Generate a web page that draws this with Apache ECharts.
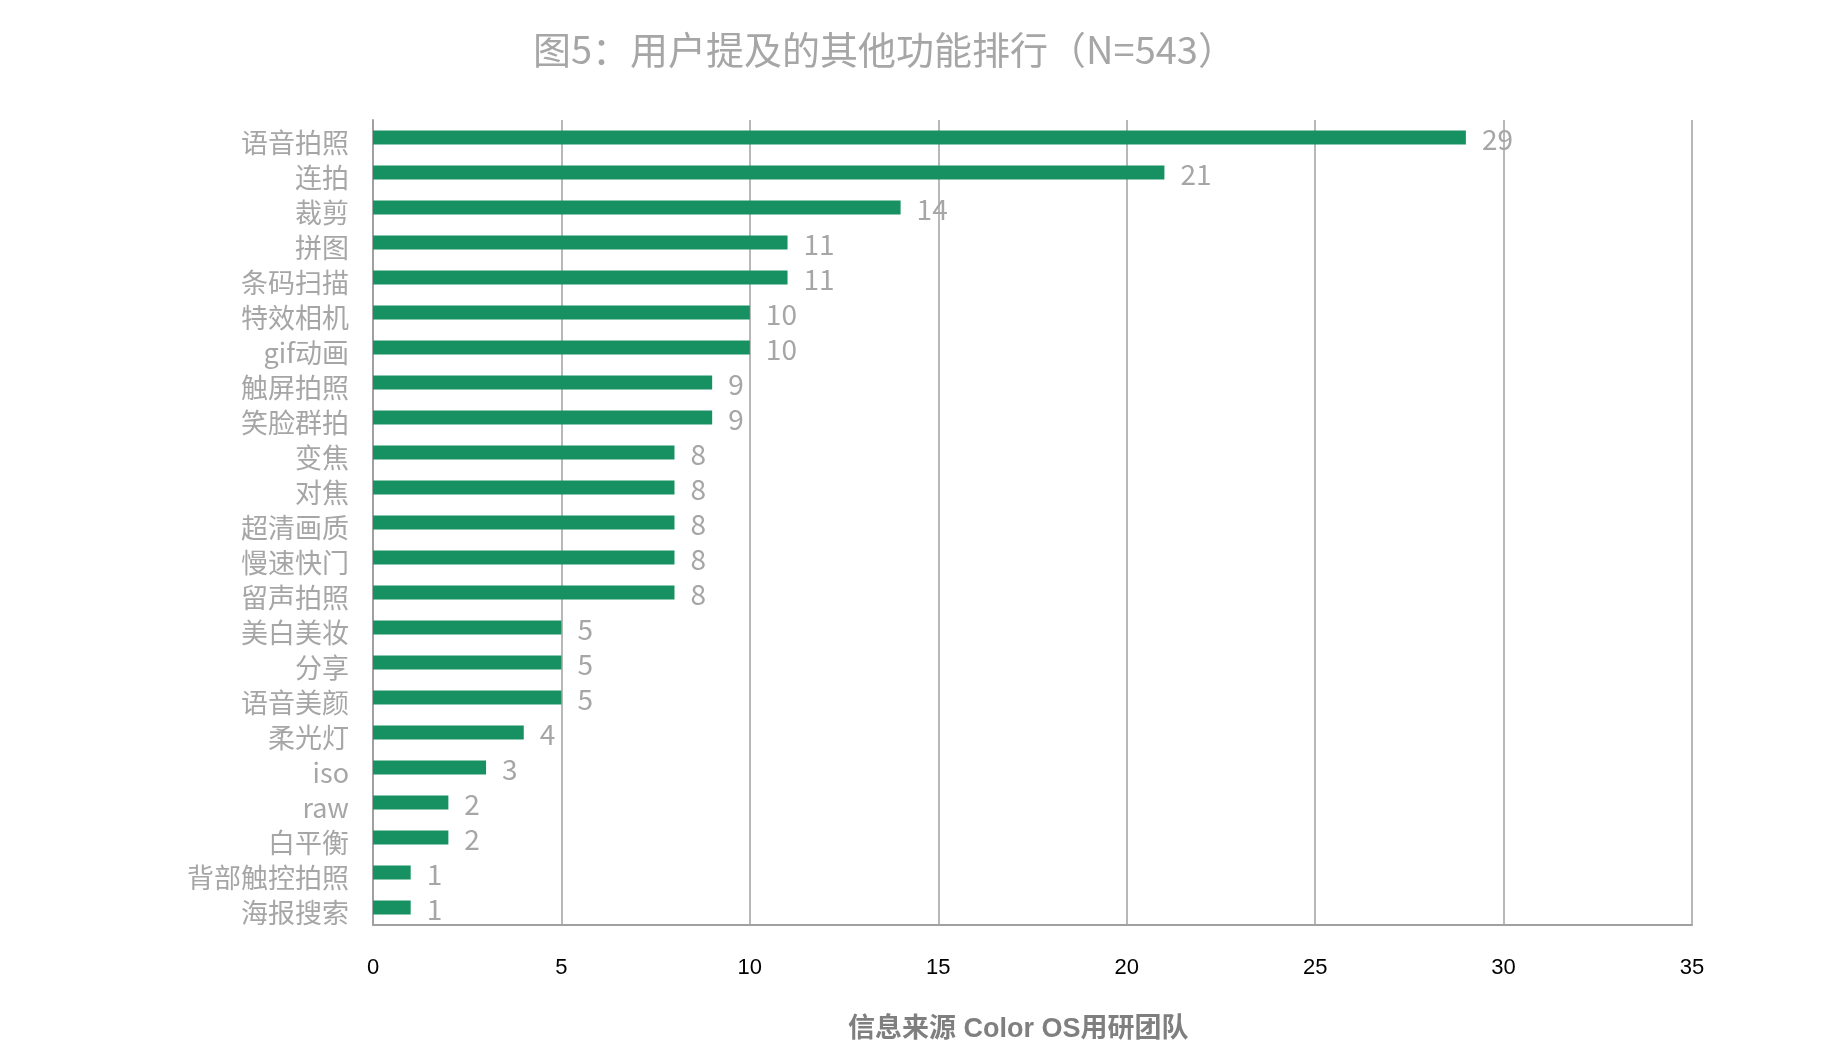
<!DOCTYPE html>
<html>
<head>
<meta charset="utf-8">
<script src="https://cdn.jsdelivr.net/npm/echarts@6/dist/echarts.min.js"></script>
<style>
  html, body { margin: 0; padding: 0; background: #fff; }
  #chart { width: 1834px; height: 1062px; }
</style>
</head>
<body>
<div id="chart"></div>
<script>
// 功能名称
var categories = ['语音拍照', '连拍', '裁剪', '拼图', '条码扫描', '特效相机', 'gif动画', '触屏拍照',
  '笑脸群拍', '变焦', '对焦', '超清画质', '慢速快门', '留声拍照', '美白美妆', '分享', '语音美颜',
  '柔光灯', 'iso', 'raw', '白平衡', '背部触控拍照', '海报搜索']
// 提及次数
var counts = [29, 21, 14, 11, 11, 10, 10, 9, 9, 8, 8, 8, 8, 8, 5, 5, 5, 4, 3, 2, 2, 1, 1]
// X轴刻度
var xTicks = [0, 5, 10, 15, 20, 25, 30, 35]

var cjk = '"Microsoft YaHei", "Noto Sans CJK SC", sans-serif'
var chart = echarts.init(document.getElementById('chart'))
chart.setOption({
  backgroundColor: '#ffffff',
  animation: false,
  // 标题
  title: {
    text: '图5：用户提及的其他功能排行（N=543）',
    left: 528,
    top: 26,
    textStyle: {
      color: '#a6a6a6',
      fontSize: 38,
      fontWeight: 'normal',
      fontFamily: cjk
    }
  },
  // 底部来源
  graphic: [{
    type: 'text',
    left: 848,
    top: 1016,
    style: {
      text: '信息来源 Color OS用研团队',
      fill: '#7f7f7f',
      font: 'bold 27px "Liberation Sans", "Noto Sans CJK SC", sans-serif'
    }
  }],
  grid: {
    left: 373,
    right: 142,
    top: 120,
    bottom: 137
  },
  xAxis: {
    type: 'value',
    min: xTicks[0],
    max: xTicks[xTicks.length - 1],
    interval: 5,
    axisLine: { show: true, lineStyle: { color: '#a0a0a0', width: 2 } },
    axisTick: { show: false },
    splitLine: { show: true, lineStyle: { color: '#a0a0a0', width: 1.5 } },
    axisLabel: {
      color: '#000000',
      fontSize: 22,
      margin: 32,
      fontFamily: '"Liberation Sans Narrow", "Liberation Sans", sans-serif'
    }
  },
  yAxis: {
    type: 'category',
    inverse: true,
    data: categories,
    axisLine: { show: true, lineStyle: { color: '#a0a0a0', width: 2 } },
    axisTick: { show: false },
    axisLabel: {
      margin: 24,
      formatter: function (v) { return '{c|' + v + '}' },
      rich: {
        c: {
          color: '#a6a6a6',
          fontSize: 27,
          fontFamily: cjk,
          padding: [10, 0, 0, 0]
        }
      }
    }
  },
  series: [{
    type: 'bar',
    data: counts,
    barWidth: 14,
    itemStyle: { color: '#179162' },
    label: {
      show: true,
      position: 'right',
      distance: 16,
      offset: [0, 2],
      color: '#a6a6a6',
      fontSize: 28,
      fontFamily: cjk
    }
  }]
})
</script>
</body>
</html>
